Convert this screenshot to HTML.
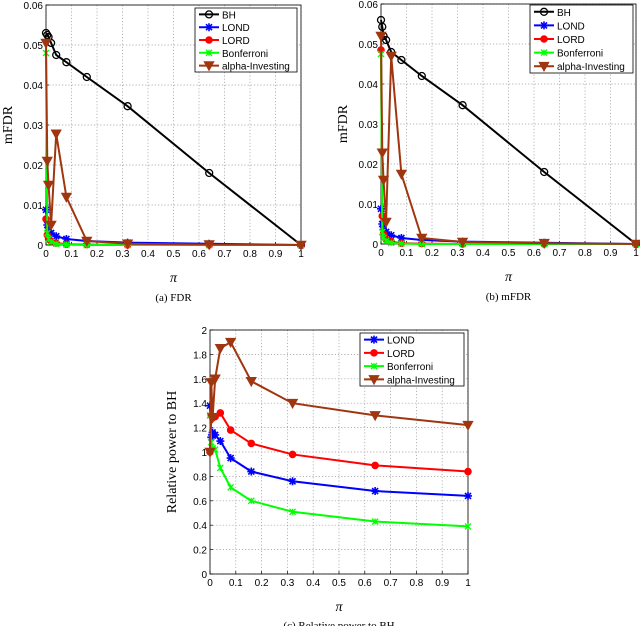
<!DOCTYPE html>
<html><head><meta charset="utf-8"><style>
html,body{margin:0;padding:0;background:#fff;width:640px;height:626px;overflow:hidden}
svg{display:block}
text{font-family:"Liberation Sans",sans-serif;font-size:10px;fill:#000}
.serif{font-family:"Liberation Serif",serif}
</style></head><body>
<svg id="c" width="640" height="626"></svg>
<script>
const xs = [0,0.005,0.01,0.02,0.04,0.08,0.16,0.32,0.64,1];
const xTicks = [0,0.1,0.2,0.3,0.4,0.5,0.6,0.7,0.8,0.9,1];
const xTickLabels = ['0','0.1','0.2','0.3','0.4','0.5','0.6','0.7','0.8','0.9','1'];
const fdrTicks = [0,0.01,0.02,0.03,0.04,0.05,0.06];
const fdrTickLabels = ['0','0.01','0.02','0.03','0.04','0.05','0.06'];
const powTicks = [0,0.2,0.4,0.6,0.8,1,1.2,1.4,1.6,1.8,2];
const powTickLabels = ['0','0.2','0.4','0.6','0.8','1','1.2','1.4','1.6','1.8','2'];
const aBH = [0.053,0.0525,0.052,0.0505,0.0475,0.0457,0.042,0.0347,0.018,0];
const aLOND = [0.0088,0.005,0.0035,0.003,0.0022,0.0015,0.001,0.0006,0.0003,0];
const aLORD = [0.0065,0.0025,0.0015,0.001,0.0005,0.0002,0.0001,0,0,0];
const aBonf = [0.048,0.003,0.0015,0.0008,0.0003,0.0001,0,0,0,0];
const aAlpha = [0.0505,0.021,0.015,0.005,0.0278,0.012,0.001,0.0003,0.0001,0];
const bBH = [0.056,0.0543,0.052,0.051,0.048,0.046,0.042,0.0347,0.018,0];
const bLOND = [0.0088,0.005,0.0035,0.003,0.0022,0.0015,0.001,0.0006,0.0003,0];
const bLORD = [0.0485,0.007,0.0025,0.0012,0.0006,0.0002,0.0001,0,0,0];
const bBonf = [0.0475,0.003,0.0015,0.0008,0.0003,0.0001,0,0,0,0];
const bAlpha = [0.052,0.0228,0.016,0.0055,0.047,0.0175,0.0015,0.0005,0.0002,0];
const cLOND = [1.38,1.12,1.16,1.14,1.09,0.95,0.84,0.76,0.68,0.64];
const cLORD = [1.0,1.3,1.28,1.29,1.32,1.18,1.07,0.98,0.89,0.84];
const cBonf = [1.3,1.08,1.03,1.02,0.87,0.71,0.6,0.51,0.43,0.39];
const cAlpha = [1.0,1.57,1.28,1.6,1.85,1.9,1.58,1.4,1.3,1.22];

const NS='http://www.w3.org/2000/svg';
const svg=document.getElementById('c');
function el(tag,attrs,parent,txt){const e=document.createElementNS(NS,tag);for(const k in attrs)e.setAttribute(k,attrs[k]);if(txt!==undefined)e.textContent=txt;(parent||svg).appendChild(e);return e;}
const COL={BH:'#000',LOND:'#0000ff',LORD:'#ff0000',Bonferroni:'#00ff00','alpha-Investing':'#a0360f'};
const MK={BH:'circle',LOND:'star',LORD:'dot',Bonferroni:'x','alpha-Investing':'tri'};
function marker(g,type,x,y,c){
  if(type==='circle'){el('circle',{cx:x,cy:y,r:3.5,fill:'none',stroke:c,'stroke-width':1.3},g);}
  else if(type==='dot'){el('circle',{cx:x,cy:y,r:3.3,fill:c,stroke:c},g);}
  else if(type==='star'){el('path',{d:`M${x-4},${y}H${x+4}M${x},${y-4}V${y+4}M${x-3},${y-3}L${x+3},${y+3}M${x-3},${y+3}L${x+3},${y-3}`,stroke:c,'stroke-width':1.6},g);}
  else if(type==='x'){el('path',{d:`M${x-3},${y-3}L${x+3},${y+3}M${x-3},${y+3}L${x+3},${y-3}M${x},${y-3}V${y+3}`,stroke:c,'stroke-width':1.3},g);}
  else if(type==='tri'){el('path',{d:`M${x-4.8},${y-3.8}H${x+4.8}L${x},${y+4.8}Z`,fill:c,stroke:c},g);}
}
function chart(name,L,R,T,B,ymax,yT,yTL,ylabel,series,legend,caption,capDy){
  const g=el('g',{});
  
  
  const sx=v=>L+v*(R-L), sy=v=>B-v/ymax*(B-T);
  el('rect',{x:L,y:T,width:R-L,height:B-T,fill:'#fff',stroke:'none'},g);
  const grid=el('g',{stroke:'#999','stroke-dasharray':'1.2,2','stroke-width':0.7},g);
  
  
  xTicks.forEach(v=>el('line',{x1:sx(v),x2:sx(v),y1:T,y2:B},grid));
  yT.forEach(v=>el('line',{x1:L,x2:R,y1:sy(v),y2:sy(v)},grid));
  el('rect',{x:L,y:T,width:R-L,height:B-T,fill:'none',stroke:'#000','stroke-width':0.8},g);
  const xa=el('g',{},g);
  
  
  xTicks.forEach((v,i)=>{el('line',{x1:sx(v),x2:sx(v),y1:B,y2:B-3,stroke:'#000','stroke-width':0.7},xa);el('text',{x:sx(v),y:B+12,'text-anchor':'middle'},xa,xTickLabels[i]);});
  const ya=el('g',{},g);
  
  
  yT.forEach((v,i)=>{el('line',{x1:L,x2:L+3,y1:sy(v),y2:sy(v),stroke:'#000','stroke-width':0.7},ya);el('text',{x:L-3,y:sy(v)+4,'text-anchor':'end'},ya,yTL[i]);});
  const xt=el('text',{x:(L+R)/2,y:B+37,'text-anchor':'middle',class:'serif','font-style':'italic',style:'font-size:14px'},g,'π');
  
  
  const yx=L-34, yy=(T+B)/2;
  const yt=el('text',{x:yx,y:yy,'text-anchor':'middle',class:'serif',style:'font-size:14px',transform:`rotate(-90 ${yx} ${yy})`},g,ylabel);
  
  
  series.forEach(([n,vals])=>{
    const sg=el('g',{},g);
    
    
    el('polyline',{points:vals.map((v,i)=>sx(xs[i])+','+sy(v)).join(' '),fill:'none',stroke:COL[n],'stroke-width':2},sg);
    vals.forEach((v,i)=>marker(sg,MK[n],sx(xs[i]),sy(v),COL[n]));
  });
  const [lx,ly,lw,lh]=legend;
  const lg=el('g',{},g);
  
  
  el('rect',{x:lx,y:ly,width:lw,height:lh,fill:'#fff',stroke:'#000','stroke-width':0.8},lg);
  const step=lh/series.length;
  series.forEach(([n],i)=>{
    const cy=ly+step*(i+0.5);
    const le=el('g',{},lg);
    
    
    el('line',{x1:lx+4,x2:lx+24,y1:cy,y2:cy,stroke:COL[n],'stroke-width':2},le);
    marker(le,MK[n],lx+14,cy,COL[n]);
    el('text',{x:lx+27,y:cy+4},le,n);
  });
  const ct=el('text',{x:(L+R)/2,y:B+capDy,'text-anchor':'middle',class:'serif',style:'font-size:11px'},g,caption);
  
  
}
chart('chart-fdr',46,301,5,245,0.06,fdrTicks,fdrTickLabels,'mFDR',
 [['BH',aBH],['LOND',aLOND],['LORD',aLORD],['Bonferroni',aBonf],['alpha-Investing',aAlpha]],[195,8,102,64],'(a)  FDR',56);
chart('chart-mfdr',381,636,4,244,0.06,fdrTicks,fdrTickLabels,'mFDR',
 [['BH',bBH],['LOND',bLOND],['LORD',bLORD],['Bonferroni',bBonf],['alpha-Investing',bAlpha]],[530,5,103,68],'(b)  mFDR',56);
chart('chart-power',210,468,330,574,2,powTicks,powTickLabels,'Relative power to BH',
 [['LOND',cLOND],['LORD',cLORD],['Bonferroni',cBonf],['alpha-Investing',cAlpha]],[360,333,104,53],'(c)  Relative power to BH',55);
</script>
</body></html>
